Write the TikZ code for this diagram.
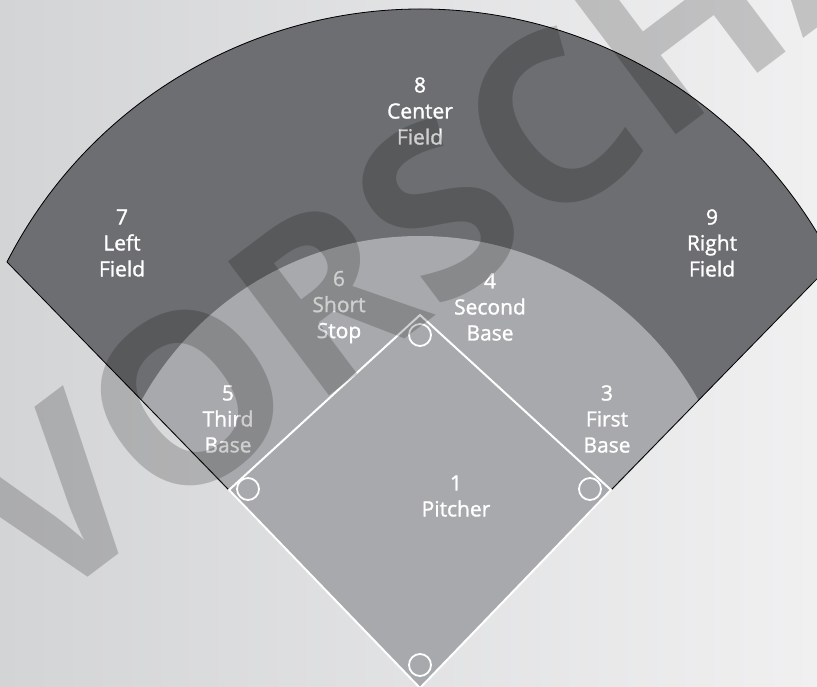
\documentclass[tikz,border=0pt]{standalone}
\usepackage{fontspec}
\setmainfont{Open Sans}
\newfontfamily\labelfont[FakeBold=1.4]{Open Sans}
\usetikzlibrary{positioning}
\definecolor{Field_Dark}{HTML}{6D6E71}
\definecolor{Field_Light}{HTML}{A7A9AC}
\definecolor{Bg_Left}{HTML}{D3D4D6}
\definecolor{Bg_Right}{HTML}{F0F0F1}

\begin{document}
\begin{tikzpicture}[
  x=1pt, y=1pt, every node/.style={font=\labelfont\fontsize{21}{26}\selectfont},
  tag/.style={text=white, align=center, inner sep=0pt},
  bagcirc/.style={circle, draw=white, line width=1.8pt, minimum size=22pt, inner sep=0pt},
  chalk/.style={draw=white, line width=2pt},
  wmark/.style={font=\rmfamily\bfseries\fontsize{235}{235}\selectfont, text=black, text opacity=0.19}
]
  % Background
  \useasboundingbox (0,0) rectangle (817,686);
  \clip (0,0) rectangle (817,686);
  \shade[left color=Bg_Left, right color=Bg_Right] (0,0) rectangle (817,686);

  % Corners of the field
  \coordinate (home) at (420,-2);
  \coordinate (lfoul) at (7,424);
  \coordinate (rfoul) at (833,424);
  \coordinate (third) at (229,196);
  \coordinate (second) at (420,371);
  \coordinate (first) at (611,196);

  % Outfield and infield
  \begin{scope}
    \clip (home) -- (-400,844) -- (1240,844) -- cycle;
    \fill[Field_Dark] (420,213) circle[radius=464];
    \fill[Field_Light] (420,132) circle[radius=318];
  \end{scope}
  \draw[black, line width=0.8pt] (third) -- (lfoul)
    arc[start angle=152.94, end angle=27.06, radius=464] -- (first);

  % Diamond
  \draw[chalk] (home) -- (third) -- (second) -- (first) -- cycle;

  % Bases
  \node[bagcirc] (b2) at (420,351) {};
  \node[bagcirc] (b3) at (248,197) {};
  \node[bagcirc] (b1) at (590,197) {};
  \node[bagcirc] (b0) at (420,21) {};

  % Positions
  \node[tag] (cf) at (420,575) {8\\Center\\Field};
  \node[tag] (lf) at (122,443) {7\\Left\\Field};
  \node[tag] (rf) at (712,443) {9\\Right\\Field};
  \node[tag] (ss) at (339,379) {6\\Short\\Stop};
  \node[tag] (sb) at (490,379) {4\\Second\\Base};
  \node[tag] (tb) at (228,267) {5\\Third\\Base};
  \node[tag] (fb) at (607,267) {3\\First\\Base};
  \node[tag] (p) at (456,190) {1\\Pitcher};

  % Watermark
  \node[wmark, rotate=37] (wm) at (508,530) {VORSCHAU};
\end{tikzpicture}
\end{document}
